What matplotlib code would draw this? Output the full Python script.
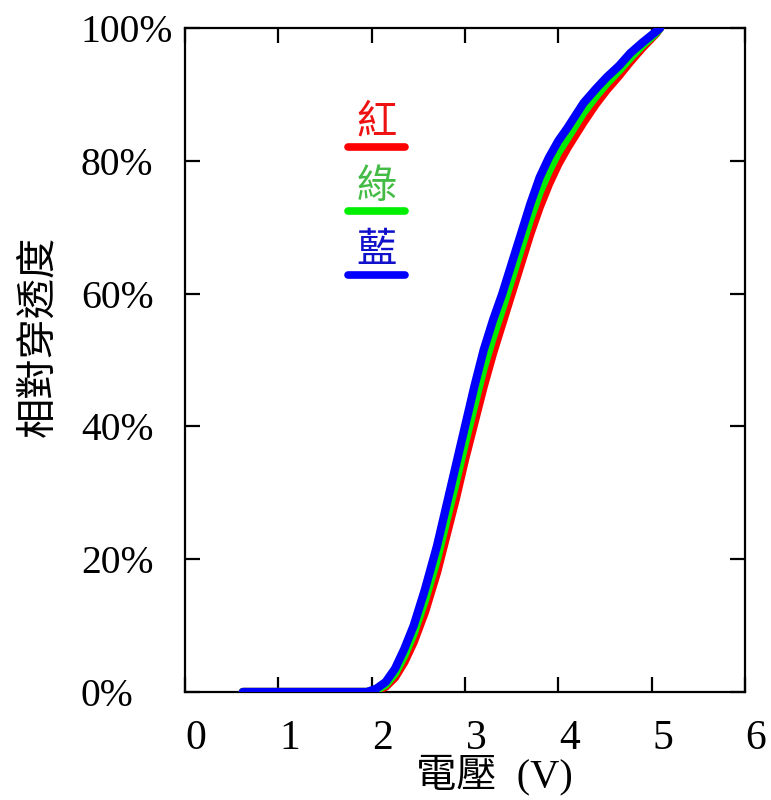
import matplotlib
matplotlib.use("Agg")
import matplotlib.pyplot as plt
import matplotlib.transforms as mtransforms

# voltage (V) and relative transmittance (%)
volt_red = [0.62, 1.95, 2.05, 2.15, 2.25, 2.35, 2.45, 2.57, 2.7, 2.8, 2.9, 3.0, 3.1, 3.2, 3.3,
            3.4, 3.5, 3.6, 3.7, 3.8, 3.9, 4.0, 4.1, 4.27, 4.4, 4.52, 4.65, 4.77, 4.9, 5.05, 5.09]
trans_red = [0, 0, 0.2, 0.8, 2.2, 4.5, 7.5, 12, 18, 23.5, 29, 35, 40.5, 46, 51,
             55.5, 60, 64.5, 69, 73, 76.5, 79.5, 82, 85.8, 88.5, 90.7, 92.8, 94.9, 97, 99.2, 100]

volt_green = [0.62, 1.95, 2.05, 2.15, 2.25, 2.35, 2.45, 2.57, 2.7, 2.8, 2.9, 3.0, 3.1, 3.2, 3.3,
              3.4, 3.5, 3.6, 3.7, 3.8, 3.9, 4.0, 4.1, 4.27, 4.4, 4.52, 4.65, 4.77, 4.9, 5.05, 5.09]
trans_green = [0, 0, 0.3, 1.1, 2.8, 5.5, 8.8, 13.8, 20, 25.8, 31.5, 37.5, 43.2, 48.8, 53.5,
               57.8, 62.3, 66.8, 71.3, 75.3, 78.5, 81.3, 83.5, 87.3, 89.7, 91.7, 93.6, 95.5, 97.4, 99.3, 100]

volt_blue = [0.62, 1.95, 2.05, 2.15, 2.25, 2.35, 2.45, 2.57, 2.7, 2.8, 2.9, 3.0, 3.1, 3.2, 3.3,
             3.4, 3.5, 3.6, 3.7, 3.8, 3.9, 4.0, 4.1, 4.27, 4.4, 4.52, 4.65, 4.77, 4.9, 5.05, 5.09]
trans_blue = [0, 0, 0.5, 1.5, 3.5, 6.5, 10, 15.4, 22, 28, 34, 40, 46, 51.5, 56,
              60, 64.5, 69, 73.5, 77.5, 80.5, 83, 85, 88.7, 90.8, 92.6, 94.3, 96.2, 97.8, 99.5, 100]

x_ticks = [0, 1, 2, 3, 4, 5, 6]
y_ticks = [0, 20, 40, 60, 80, 100]
y_tick_labels = ["0%", "20%", "40%", "60%", "80%", "100%"]

legend_names = ["紅", "綠", "藍"]
legend_text_colors = ["#ee1111", "#44bb44", "#1111cc"]
line_colors = ["#ff0000", "#00ee00", "#0000ff"]

serif = ["Liberation Serif", "Noto Sans CJK TC"]
cjk = ["Noto Sans CJK TC", "DejaVu Sans"]

fig = plt.figure(figsize=(7.71, 8), dpi=100)
ax = fig.add_axes([185 / 771, 1 - 692 / 800, 560 / 771, 664 / 800])

series = [(volt_red, trans_red), (volt_green, trans_green), (volt_blue, trans_blue)]
for (v, t), c in zip(series, line_colors):
    ax.plot(v, t, color=c, lw=6, solid_capstyle="round", solid_joinstyle="round", zorder=3)

ax.set_xlim(0, 6)
ax.set_ylim(0, 100)
ax.set_xticks(x_ticks)
ax.set_yticks(y_ticks)
ax.set_yticklabels(y_tick_labels)

for s in ax.spines.values():
    s.set_linewidth(1.6)
ax.tick_params(direction="in", length=11, width=1.6, top=True, right=True)
ax.tick_params(axis="x", pad=20, labelsize=30)
ax.tick_params(axis="y", pad=75, labelsize=28.5)
for lab in ax.get_xticklabels():
    lab.set_fontfamily(serif)
    lab.set_transform(lab.get_transform() + mtransforms.ScaledTranslation(11 / 100, 0, fig.dpi_scale_trans))
for lab in ax.get_yticklabels():
    lab.set_fontfamily(serif)
    lab.set_horizontalalignment("left")

# axis titles
fig.text(494 / 771, 1 - 775 / 800, "電壓  (V)", family=serif, fontsize=29,
         ha="center", va="center")
fig.text(38 / 771, 1 - 336 / 800, "相對穿透度", family=cjk, fontsize=29,
         rotation=90, ha="center", va="center")

# hand-drawn legend
legend_y_text = [122, 186, 251]
legend_y_line = [147, 211, 275]
for name, tc, lc, yt, yl in zip(legend_names, legend_text_colors, line_colors, legend_y_text, legend_y_line):
    fig.text(377 / 771, 1 - yt / 800, name, family=cjk, fontsize=29, color=tc,
             ha="center", va="center")
    fig.add_artist(plt.Line2D([348 / 771, 405 / 771], [1 - yl / 800, 1 - yl / 800],
                              color=lc, lw=5.5, solid_capstyle="round", transform=fig.transFigure))

fig.savefig("out.png", dpi=100)
